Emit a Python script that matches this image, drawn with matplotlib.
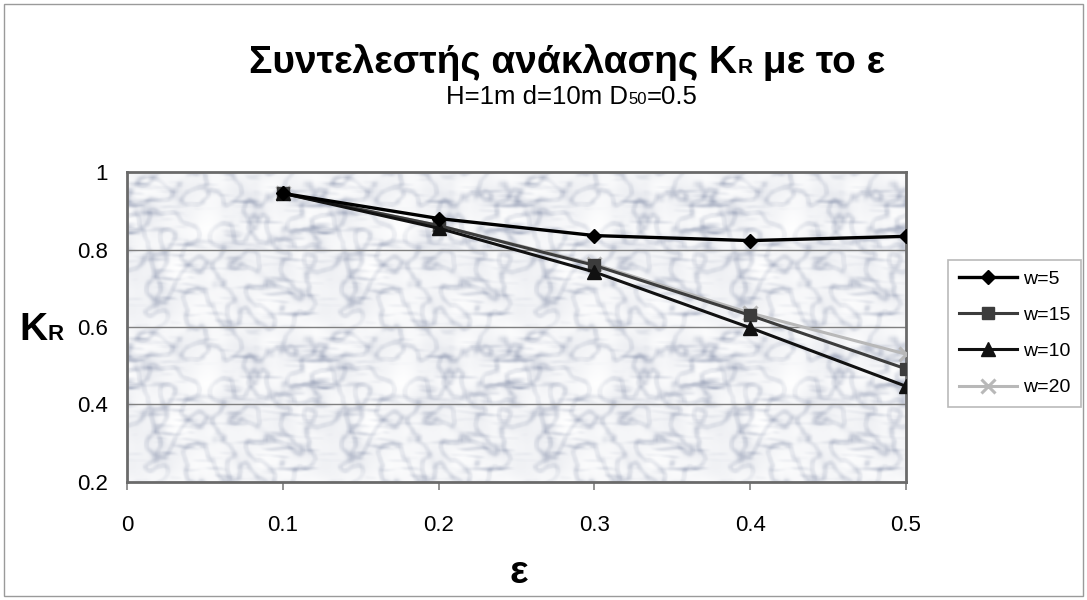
import matplotlib.pyplot as plt
import numpy as np
from matplotlib.patches import Rectangle

# reflection coefficient K_R against porosity e
eps = [0.1, 0.2, 0.3, 0.4, 0.5]
kr_w5 = [0.945, 0.880, 0.836, 0.823, 0.834]
kr_w15 = [0.945, 0.862, 0.759, 0.630, 0.492]
kr_w10 = [0.945, 0.855, 0.742, 0.598, 0.447]
kr_w20 = [0.945, 0.862, 0.762, 0.636, 0.530]

x_ticks = [0, 0.1, 0.2, 0.3, 0.4, 0.5]
y_ticks = [0.2, 0.4, 0.6, 0.8, 1.0]
y_labels = ['0.2', '0.4', '0.6', '0.8', '1']

plt.rcParams['font.family'] = ['Liberation Sans', 'DejaVu Sans']

fig = plt.figure(figsize=(10.87, 6.0), dpi=100)
fig.patches.append(Rectangle((0.004, 0.006), 0.992, 0.988, transform=fig.transFigure,
                             fill=False, edgecolor='#9a9a9a', linewidth=1.0))

ax = fig.add_axes([0.1168, 0.1967, 0.7167, 0.5166])


def box_blur(a, ny, nx, passes=2):
    # wrap-around blur so the tile repeats seamlessly
    out = a.copy()
    for _ in range(passes):
        out = sum(np.roll(out, k, axis=0) for k in range(-ny, ny + 1)) / (2 * ny + 1)
        out = sum(np.roll(out, k, axis=1) for k in range(-nx, nx + 1)) / (2 * nx + 1)
    return out


def norm(a):
    return (a - a.min()) / (a.max() - a.min())


# soft marble fill for the plot area, one tile repeated
rng = np.random.default_rng(11)
th, tw = 155, 195
veins = norm(box_blur(rng.random((th, tw)), 6, 6))
veins = (1 - np.abs(2 * veins - 1)) ** 14
veins = box_blur(veins, 2, 2, passes=1)
streak = norm(box_blur(rng.random((th, tw)), 1, 8))
for i in range(th):
    streak[i] = np.roll(streak[i], int(i * 1.1))
streak = box_blur(np.clip(streak - 0.6, 0, 1) * 2.5, 1, 1, passes=1)
mottle = norm(box_blur(rng.random((th, tw)), 9, 9))
dark = np.clip(0.45 * veins + 0.35 * streak + 0.12 * mottle, 0, 1)
tile = 1 - dark[..., None] * (1 - np.array([0.40, 0.45, 0.58]))
marble = np.tile(tile, (2, 4, 1))
ax.imshow(marble, extent=[0, 0.5, 0.2, 1.0], aspect='auto', zorder=0, interpolation='bilinear')

for g in [0.4, 0.6, 0.8]:
    ax.axhline(g, color='#808080', lw=1.0, zorder=1)

ax.plot(eps, kr_w20, color='#b8b8b8', lw=2.2, marker='x', ms=10, mew=2.2, label='w=20', zorder=3)
ax.plot(eps, kr_w10, color='#111111', lw=2.2, marker='^', ms=10, label='w=10', zorder=4)
ax.plot(eps, kr_w15, color='#3c3c3c', lw=2.2, marker='s', ms=8, label='w=15', zorder=3)
ax.plot(eps, kr_w5, color='#000000', lw=2.4, marker='D', ms=7, label='w=5', zorder=5)

ax.set_xlim(0, 0.5)
ax.set_ylim(0.2, 1.0)
ax.set_xticks(x_ticks)
ax.set_xticklabels([str(t) for t in x_ticks])
ax.set_yticks(y_ticks)
ax.set_yticklabels(y_labels)
ax.tick_params(axis='x', direction='out', length=6, width=1.2, pad=18, labelsize=16, color='#808080')
ax.tick_params(axis='y', length=0, pad=14, labelsize=16)
for s in ax.spines.values():
    s.set_color('#6a6a6a')
    s.set_linewidth(2.0)

handles, labels = ax.get_legend_handles_labels()
order = [3, 2, 1, 0]
leg = fig.legend([handles[i] for i in order], [labels[i] for i in order],
                 loc='upper left', bbox_to_anchor=(0.872, 0.567), fontsize=14,
                 frameon=True, fancybox=False, edgecolor='#a8a8a8',
                 handlelength=3.0, handletextpad=0.3, labelspacing=0.95,
                 borderpad=0.55, borderaxespad=0)
leg.get_frame().set_linewidth(1.2)


def run_text(pieces, xc, y, **kw):
    # lay text pieces side by side on one baseline, centred on xc
    r = fig.canvas.get_renderer()
    arts = [fig.text(0, y, s, va='baseline', fontsize=fs, **kw) for s, fs in pieces]
    widths = [a.get_window_extent(r).width / fig.bbox.width for a in arts]
    x = xc - sum(widths) / 2
    for a, wd in zip(arts, widths):
        a.set_x(x)
        x += wd


run_text([('Συντελεστής ανάκλασης K', 28), ('R', 15), (' με το ε', 28)],
         0.522, 0.879, fontweight='bold')
run_text([('H=1m d=10m D', 18.5), ('50', 12), ('=0.5', 18.5)], 0.526, 0.826)
run_text([('K', 28), ('R', 16)], 0.038, 0.433, fontweight='bold')
fig.text(0.477, 0.029, 'ε', ha='center', va='baseline', fontsize=28, fontweight='bold')

fig.savefig('out.png', dpi=100)
